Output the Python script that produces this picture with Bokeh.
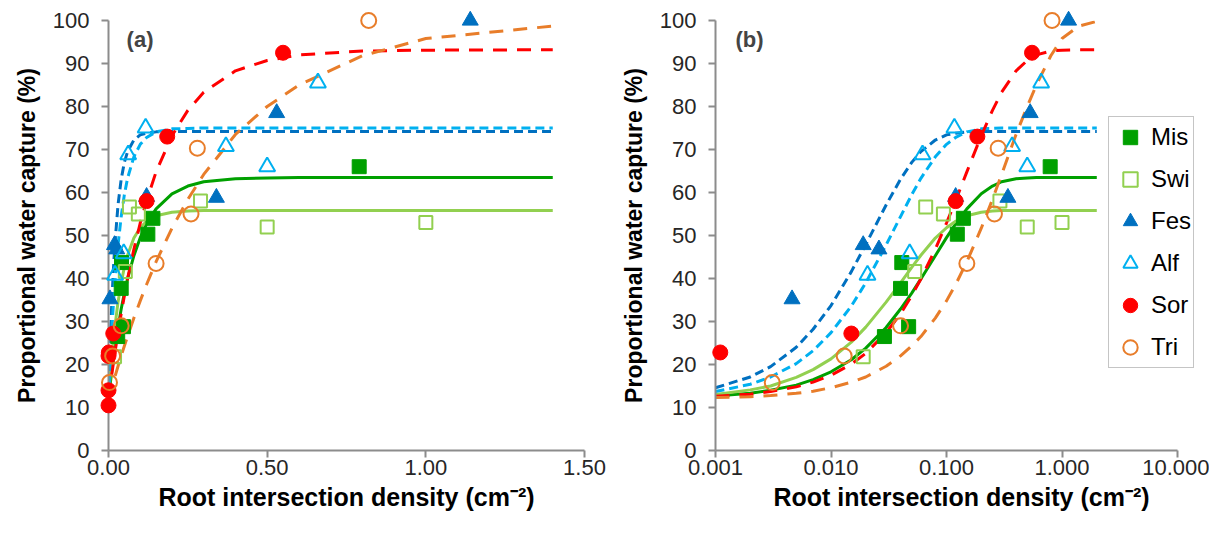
from bokeh.plotting import figure
from bokeh.layouts import row
from bokeh.models import FixedTicker, NumeralTickFormatter, Legend, LegendItem, Label, Range1d
from bokeh.embed import file_html
from bokeh.resources import INLINE

# ---------------- data: measured points ----------------
mis_x = [0.029, 0.047, 0.040, 0.041, 0.124, 0.140, 0.79]
mis_y = [26.5, 28.8, 37.7, 43.7, 50.3, 54.0, 66.0]

swi_x = [0.019, 0.053, 0.066, 0.094, 0.29, 0.50, 1.00]
swi_y = [21.8, 41.6, 56.6, 55.0, 58.0, 52.0, 53.0]

fes_x = [0.0046, 0.019, 0.026, 0.12, 0.34, 0.53, 1.14]
fes_y = [35.2, 47.8, 46.8, 59.0, 58.8, 78.5, 100.0]

alf_x = [0.0207, 0.048, 0.062, 0.117, 0.37, 0.50, 0.66]
alf_y = [40.8, 45.8, 68.8, 75.0, 70.7, 66.0, 85.5]

sor_x = [0.0, 0.0, 0.0, 0.0011, 0.015, 0.12, 0.185, 0.55]
sor_y = [10.5, 14.0, 22.0, 22.8, 27.2, 58.0, 73.0, 92.5]

tri_x = [0.0031, 0.013, 0.040, 0.15, 0.26, 0.28, 0.82]
tri_y = [15.8, 22.0, 29.0, 43.5, 55.0, 70.3, 100.0]

# ---------------- data: fitted curves ----------------
curve_x = [0, 0.001, 0.002, 0.003, 0.005, 0.007, 0.01, 0.015, 0.02, 0.03, 0.04,
           0.05, 0.06, 0.08, 0.1, 0.12, 0.15, 0.2, 0.25, 0.3, 0.4, 0.5, 0.6,
           0.8, 1.0, 1.4, 2.0]
mis_fit = [12.0, 12.7, 13.3, 14.0, 15.2, 16.5, 18.3, 21.1, 23.8, 28.6, 32.9,
           36.6, 39.9, 45.3, 49.5, 52.7, 56.2, 59.7, 61.5, 62.5, 63.2, 63.4, 63.5,
           63.5, 63.5, 63.5, 63.5]
swi_fit = [12.0, 13.0, 14.1, 15.0, 17.0, 18.8, 21.3, 25.2, 28.7, 34.5, 39.0,
           42.6, 45.4, 49.4, 51.8, 53.3, 54.6, 55.4, 55.7, 55.8, 55.8, 55.8, 55.8,
           55.8, 55.8, 55.8, 55.8]
fes_fit = [12.0, 14.6, 17.1, 19.5, 24.0, 28.2, 33.7, 41.6, 47.9, 57.1, 63.1,
           67.0, 69.5, 72.2, 73.4, 73.8, 74.1, 74.2, 74.2, 74.2, 74.2, 74.2, 74.2,
           74.2, 74.2, 74.2, 74.2]
alf_fit = [12.0, 13.7, 15.4, 17.1, 20.2, 23.2, 27.4, 33.6, 39.0, 47.8, 54.4,
           59.5, 63.3, 68.3, 71.2, 72.8, 74.1, 74.8, 74.9, 75.0, 75.0, 75.0, 75.0,
           75.0, 75.0, 75.0, 75.0]
sor_fit = [12.0, 12.6, 13.1, 13.7, 14.8, 15.9, 17.5, 20.1, 22.6, 27.4, 31.8,
           36.0, 39.9, 46.8, 52.9, 58.1, 64.8, 73.2, 79.1, 83.3, 88.3, 90.7, 92.0,
           92.9, 93.1, 93.2, 93.2]
tri_fit = [12.0, 12.3, 12.5, 12.8, 13.3, 13.8, 14.6, 15.9, 17.1, 19.6, 22.0,
           24.3, 26.5, 30.8, 34.8, 38.6, 43.9, 51.7, 58.4, 64.2, 73.5, 80.0, 85.0,
           91.8, 95.8, 98.7, 99.8]

y_ticks = [0, 10, 20, 30, 40, 50, 60, 70, 80, 90, 100]
xa_ticks = [0.0, 0.5, 1.0, 1.5]
xb_ticks = [0.001, 0.01, 0.1, 1.0, 10.0]

FONT = "Liberation Sans"
GRAY = "#8C8C8C"

# name, x, y, marker, color, filled, fit, dash, size
series = [
    ("Mis", mis_x, mis_y, "square", "#00A000", True, mis_fit, "solid", 14),
    ("Swi", swi_x, swi_y, "square", "#92D050", False, swi_fit, "solid", 13),
    ("Fes", fes_x, fes_y, "triangle", "#0070C0", True, fes_fit, "9 5", 16),
    ("Alf", alf_x, alf_y, "triangle", "#00B0F0", False, alf_fit, "9 5", 16),
    ("Sor", sor_x, sor_y, "circle", "#FF0000", True, sor_fit, "14 10", 15),
    ("Tri", tri_x, tri_y, "circle", "#E87D2A", False, tri_fit, "14 10", 15),
]


def make(panel):
    log = panel == "b"
    common = dict(height=533, y_range=Range1d(0, 100), output_backend="svg",
                  toolbar_location=None, min_border_top=20, min_border_bottom=83,
                  background_fill_color="white", border_fill_color="white")
    if log:
        # frame extends a little past 10 so the legend fits; axis line stops at 10
        p = figure(width=601, x_axis_type="log", x_range=Range1d(0.001, 18.18),
                   min_border_left=107, min_border_right=2, **common)
        xmax = 2.0
    else:
        p = figure(width=608, x_range=Range1d(0, 1.5),
                   min_border_left=108, min_border_right=24, **common)
        xmax = 1.4
    p.outline_line_color = None
    p.xgrid.grid_line_color = None
    p.ygrid.grid_line_color = None

    for ax in (p.xaxis[0], p.yaxis[0]):
        ax.axis_line_color = GRAY
        ax.axis_line_width = 2
        ax.major_tick_line_color = GRAY
        ax.major_tick_line_width = 2
        ax.major_tick_out = 7
        ax.major_tick_in = 0
        ax.minor_tick_line_color = None
        ax.major_label_text_font = FONT
        ax.major_label_text_font_size = "22px"
        ax.major_label_text_color = "#262626"
        ax.axis_label_text_font = FONT
        ax.axis_label_text_font_style = "bold"
        ax.axis_label_text_color = "black"

    p.yaxis[0].ticker = FixedTicker(ticks=y_ticks)
    p.yaxis[0].axis_label = "Proportional water capture (%)"
    p.yaxis[0].axis_label_text_font_size = "23px"
    p.yaxis[0].major_label_standoff = 12
    p.yaxis[0].axis_label_standoff = 10
    p.xaxis[0].axis_label = "Root intersection density (cm\u207B\u00B2)"
    p.xaxis[0].axis_label_text_font_size = "25px"
    p.xaxis[0].major_label_standoff = 2
    p.xaxis[0].axis_label_standoff = 5
    if log:
        p.xaxis[0].ticker = FixedTicker(ticks=xb_ticks)
        p.xaxis[0].formatter = NumeralTickFormatter(format="0.000")
        p.xaxis[0].bounds = (0.001, 10.0)
    else:
        p.xaxis[0].ticker = FixedTicker(ticks=xa_ticks)
        p.xaxis[0].formatter = NumeralTickFormatter(format="0.00")

    # curves
    for name, xs, ys, marker, color, filled, fit, dash, size in series:
        cx = [x for x in curve_x if x <= xmax and (x > 0 or not log)]
        cy = [y for x, y in zip(curve_x, fit) if x <= xmax and (x > 0 or not log)]
        p.line(cx, cy, line_color=color, line_width=3, line_dash=dash)

    items = []
    for name, xs, ys, marker, color, filled, fit, dash, size in series:
        px = [x for x in xs if (x > 0 or not log)]
        py = [y for x, y in zip(xs, ys) if (x > 0 or not log)]
        r = p.scatter(px, py, marker=marker, size=size,
                      fill_color=color if filled else None,
                      line_color=color, line_width=1 if filled else 2,
                      level="overlay")
        items.append(LegendItem(label=name, renderers=[r]))

    if log:
        lg = Legend(items=items, location=(393, 82), orientation="vertical",
                    border_line_color=GRAY, border_line_width=1.5,
                    background_fill_color="white", background_fill_alpha=1,
                    label_text_font=FONT, label_text_font_size="24px",
                    label_text_color="black",
                    glyph_width=38, glyph_height=36, label_height=36,
                    spacing=6, padding=2, margin=0, label_standoff=2)
        p.add_layout(lg)
        p.add_layout(Label(x=0.00149, y=95.5, text="(b)", text_font=FONT,
                           text_font_size="22px", text_font_style="bold",
                           text_baseline="middle", text_align="left"))
    else:
        p.add_layout(Label(x=0.057, y=95.5, text="(a)", text_font=FONT,
                           text_font_size="22px", text_font_style="bold",
                           text_baseline="middle", text_align="left"))
    return p


p = row(make("a"), make("b"))
open("out.html", "w").write(file_html(p, INLINE))
